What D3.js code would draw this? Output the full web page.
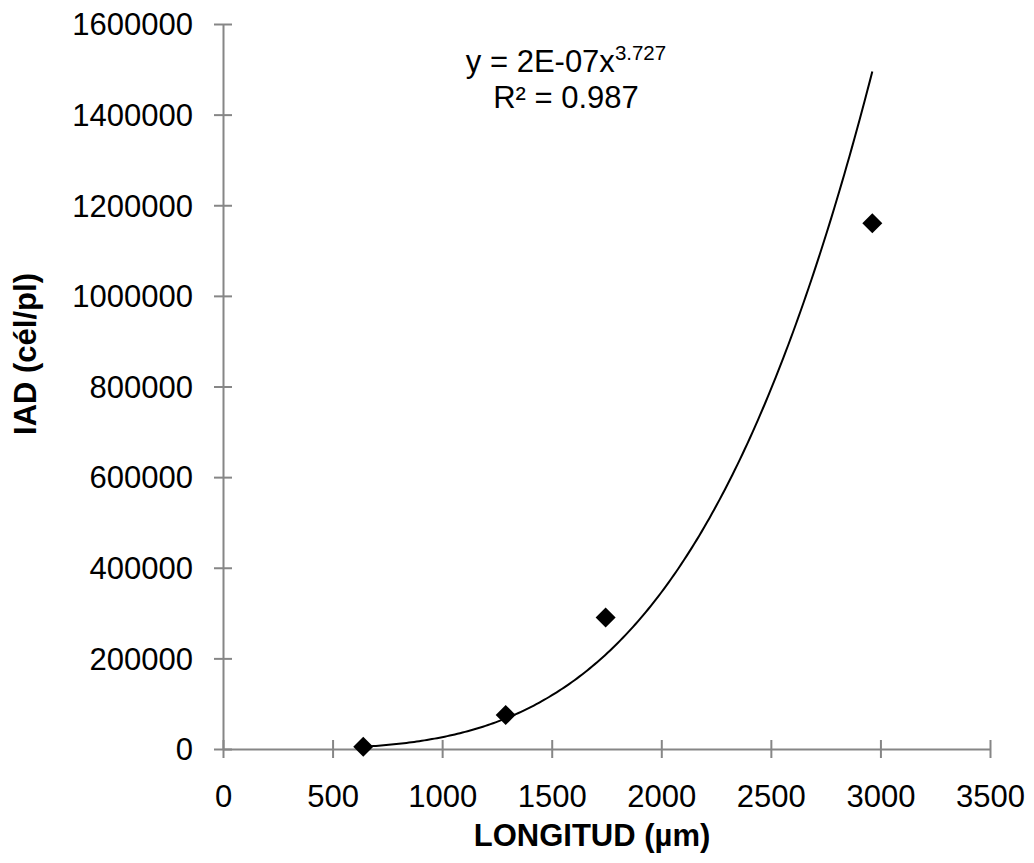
<!DOCTYPE html>
<html>
<head>
<meta charset="utf-8">
<script src="https://cdn.jsdelivr.net/npm/d3@7"></script>
<style>
  html, body { margin: 0; padding: 0; background: #fff; }
  svg text { font-family: Arial, "Liberation Sans", sans-serif; fill: #000; }
</style>
</head>
<body>
<svg id="chart" width="1034" height="863"></svg>
<script>
// Data
const longitud = [640, 1290, 1746, 2963];
const iad = [5000, 75000, 290000, 1160500];
const xTicks = [0, 500, 1000, 1500, 2000, 2500, 3000, 3500];
const yTicks = [0, 200000, 400000, 600000, 800000, 1000000, 1200000, 1400000, 1600000];
// Power trendline (as shown: y = 2E-07x^3.727, R² = 0.987)
const trendCoef = 1.72e-7;
const trendExp = 3.727;
const eqLabel = "y = 2E-07x";
const eqSup = "3.727";
const r2Label = "R² = 0.987";
const xTitle = "LONGITUD (µm)";
const yTitle = "IAD (cél/pl)";

const svg = d3.select("#chart");
const axisColor = "#868686";
const fs = "31px";
const ff = "Arial, 'Liberation Sans', sans-serif";

const x = d3.scaleLinear().domain([0, 3500]).range([223, 990]);
const y = d3.scaleLinear().domain([0, 1600000]).range([749, 24]);

// Y axis
const yAxis = svg.append("g").attr("transform", `translate(${x(0)},0)`)
  .call(d3.axisLeft(y).tickValues(yTicks).tickSize(0).tickFormat(d3.format("d")));
yAxis.select(".domain").attr("stroke", axisColor).attr("stroke-width", 2);
yAxis.selectAll(".tick line").remove();
yAxis.selectAll(".tick").append("line")
  .attr("x1", -9).attr("x2", 9).attr("stroke", axisColor).attr("stroke-width", 2);
yAxis.selectAll(".tick text")
  .attr("x", -30).attr("dy", "0.35em")
  .style("font-size", fs).style("font-family", ff).attr("fill", "#000");

// X axis
const xAxis = svg.append("g").attr("transform", `translate(0,${y(0)})`)
  .call(d3.axisBottom(x).tickValues(xTicks).tickSize(0).tickFormat(d3.format("d")));
xAxis.select(".domain").attr("stroke", axisColor).attr("stroke-width", 2);
xAxis.selectAll(".tick line").remove();
xAxis.selectAll(".tick").append("line")
  .attr("y1", -9).attr("y2", 9).attr("stroke", axisColor).attr("stroke-width", 2);
xAxis.selectAll(".tick text")
  .attr("y", 58).attr("dy", "0")
  .style("font-size", fs).style("font-family", ff).attr("fill", "#000");

// Trendline
const xs = d3.range(0, 201).map(i => longitud[0] + (longitud[longitud.length - 1] - longitud[0]) * i / 200);
const line = d3.line().x(d => x(d)).y(d => y(trendCoef * Math.pow(d, trendExp)));
svg.append("path").datum(xs).attr("d", line)
  .attr("fill", "none").attr("stroke", "#000").attr("stroke-width", 2);

// Markers (diamonds)
const diamond = d3.symbol().type(d3.symbolSquare).size(200);
svg.selectAll(".pt").data(longitud.map((v, i) => [v, iad[i]])).enter()
  .append("path").attr("class", "pt")
  .attr("d", diamond)
  .attr("transform", d => `translate(${x(d[0])},${y(d[1])}) rotate(45)`)
  .attr("fill", "#000");

// Equation labels
const eq = svg.append("text").attr("x", 566).attr("y", 72).attr("text-anchor", "middle")
  .style("font-size", fs);
eq.append("tspan").text(eqLabel);
eq.append("tspan").attr("dy", -12).style("font-size", "20.5px").text(eqSup);
svg.append("text").attr("x", 566).attr("y", 108).attr("text-anchor", "middle")
  .style("font-size", fs).text(r2Label);

// Axis titles
svg.append("text").attr("x", 592).attr("y", 846).attr("text-anchor", "middle")
  .style("font-size", fs).style("font-weight", "bold").text(xTitle);
svg.append("text").attr("transform", "translate(36,354) rotate(-90)").attr("text-anchor", "middle")
  .style("font-size", fs).style("font-weight", "bold").text(yTitle);
</script>
</body>
</html>
